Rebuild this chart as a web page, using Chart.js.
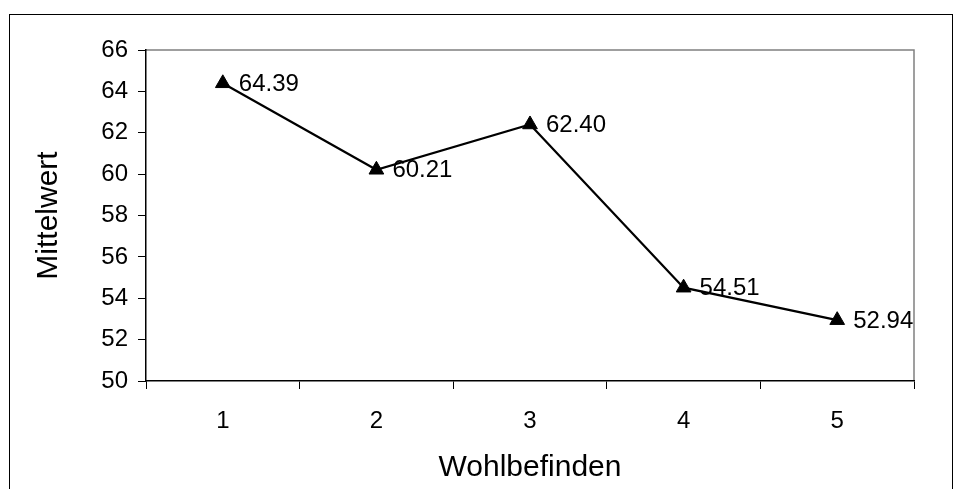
<!DOCTYPE html>
<html>
<head>
<meta charset="utf-8">
<script src="https://cdn.jsdelivr.net/npm/chart.js@4/dist/chart.umd.min.js"></script>
<style>
  html, body { margin: 0; padding: 0; background: #fff; }
  canvas { display: block; }
</style>
</head>
<body>
<canvas id="c" width="956" height="489"></canvas>
<script>
// Mean score per level of well-being
const categories = ['1', '2', '3', '4', '5'];
const meanValues = [64.39, 60.21, 62.40, 54.51, 52.94];
const yTickMin = 50;
const yTickMax = 66;
const yTickStep = 2;
const xTitle = 'Wohlbefinden';
const yTitle = 'Mittelwert';

const FONT = '"Liberation Sans", Arial, sans-serif';

Chart.defaults.font.family = FONT;
Chart.defaults.font.size = 24;
Chart.defaults.color = '#000';

// Outer frame plus the grey top/right edges of the plot area
const framePlugin = {
  id: 'frame',
  beforeDraw(chart) {
    const ctx = chart.ctx;
    const a = chart.chartArea;
    ctx.save();
    ctx.fillStyle = '#fff';
    ctx.fillRect(0, 0, chart.width, chart.height);
    ctx.strokeStyle = '#000';
    ctx.lineWidth = 1;
    ctx.strokeRect(9.5, 14.5, 943, 520);
    ctx.strokeStyle = '#808080';
    ctx.lineWidth = 1.5;
    ctx.beginPath();
    ctx.moveTo(a.left, a.top);
    ctx.lineTo(a.right, a.top);
    ctx.lineTo(a.right, a.bottom);
    ctx.stroke();
    ctx.restore();
  }
};

// Value labels to the right of each marker
const valueLabelPlugin = {
  id: 'valueLabels',
  afterDatasetsDraw(chart) {
    const ctx = chart.ctx;
    const meta = chart.getDatasetMeta(0);
    ctx.save();
    ctx.font = '24px ' + FONT;
    ctx.fillStyle = '#000';
    ctx.textAlign = 'left';
    ctx.textBaseline = 'middle';
    meta.data.forEach((pt, i) => {
      ctx.fillText(meanValues[i].toFixed(2), pt.x + 16, pt.y + 1);
    });
    ctx.restore();
  }
};

new Chart(document.getElementById('c'), {
  type: 'line',
  data: {
    labels: categories,
    datasets: [{
      data: meanValues,
      borderColor: '#000',
      borderWidth: 2.2,
      pointStyle: 'triangle',
      pointRadius: 8.5,
      pointBorderWidth: 1,
      pointBackgroundColor: '#000',
      pointBorderColor: '#000',
      tension: 0,
      fill: false
    }]
  },
  options: {
    responsive: false,
    animation: false,
    devicePixelRatio: 1,
    layout: { padding: { left: 0, top: 50, right: 42, bottom: 0 } },
    plugins: {
      legend: { display: false },
      tooltip: { enabled: false }
    },
    scales: {
      x: {
        type: 'category',
        offset: true,
        grid: {
          offset: true,
          drawOnChartArea: false,
          tickLength: 8,
          color: '#000',
          lineWidth: 1
        },
        border: { color: '#000', width: 1.5 },
        ticks: {
          color: '#000',
          font: { family: FONT, size: 24 },
          padding: 18,
          maxRotation: 0
        },
        title: {
          display: true,
          text: xTitle,
          color: '#000',
          font: { family: FONT, size: 30 },
          padding: { top: 0, bottom: 3 }
        },
        afterFit(scale) { scale.height = 108; }
      },
      y: {
        min: yTickMin,
        max: yTickMax,
        grid: {
          drawOnChartArea: false,
          tickLength: 8,
          color: '#000',
          lineWidth: 1
        },
        border: { color: '#000', width: 1.5 },
        ticks: {
          stepSize: yTickStep,
          color: '#000',
          font: { family: FONT, size: 24 },
          padding: 10
        },
        title: {
          display: true,
          text: yTitle,
          color: '#000',
          font: { family: FONT, size: 30 },
          padding: { top: 31, bottom: 0 }
        },
        afterFit(scale) { scale.width = 146; }
      }
    }
  },
  plugins: [framePlugin, valueLabelPlugin]
});
</script>
</body>
</html>
